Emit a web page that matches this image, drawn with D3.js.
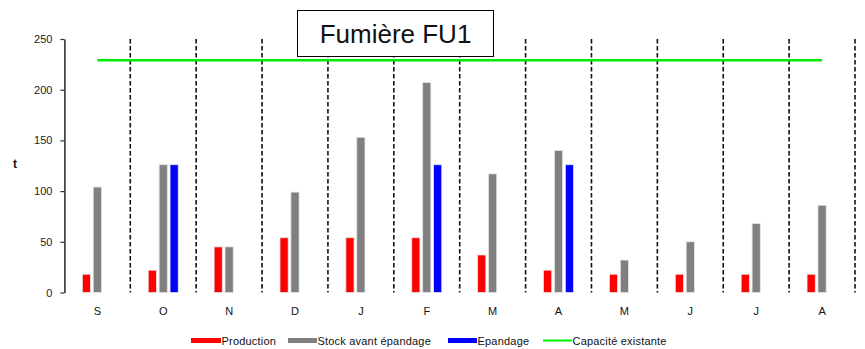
<!DOCTYPE html>
<html>
<head>
<meta charset="utf-8">
<script src="https://cdn.jsdelivr.net/npm/d3@7"></script>
<style>
  html, body { margin: 0; padding: 0; background: #fff; }
  svg { display: block; font-family: "Liberation Sans", Arial, sans-serif; }
</style>
</head>
<body>
<svg id="chart" width="865" height="349"></svg>
<script>
// Monthly manure balance for storage FU1 (tonnes)
const months = ["S", "O", "N", "D", "J", "F", "M", "A", "M", "J", "J", "A"];
const production = [18, 22, 45, 54, 54, 54, 37, 22, 18, 18, 18, 18];
const stock = [104, 126, 45, 99, 153, 207, 117, 140, 32, 50, 68, 86];
const epandage = [0, 126, 0, 0, 0, 126, 0, 126, 0, 0, 0, 0];
const capacite = [229, 229, 229, 229, 229, 229, 229, 229, 229, 229, 229, 229];
const yTicks = [0, 50, 100, 150, 200, 250];

const seriesNames = ["Production", "Stock avant épandage", "Epandage"];
const seriesColors = ["#ff0000", "#808080", "#0000ff"];
const seriesData = [production, stock, epandage];

const svg = d3.select("#chart");

const x = d3.scaleBand()
  .domain(d3.range(months.length))
  .range([64.4, 855])
  .padding(0);

const y = d3.scaleLinear().domain([0, 250]).range([292.5, 39]);

const groupW = 30;
const xs = d3.scaleBand()
  .domain(d3.range(seriesNames.length))
  .range([0, groupW])
  .paddingInner(0.25)
  .paddingOuter(0);

// dashed month separators
svg.append("g")
  .selectAll("line")
  .data(d3.range(months.length))
  .join("line")
  .attr("x1", i => x(i) + x.bandwidth())
  .attr("x2", i => x(i) + x.bandwidth())
  .attr("y1", y(250))
  .attr("y2", y(0))
  .attr("stroke", "#111")
  .attr("stroke-width", 1.6)
  .attr("stroke-dasharray", "4.5,2.5");

// bars
seriesData.forEach((vals, s) => {
  svg.append("g")
    .selectAll("rect")
    .data(vals.map((v, i) => ({ v, i })).filter(d => d.v > 0))
    .join("rect")
    .attr("x", d => x(d.i) + (x.bandwidth() - groupW) / 2 + xs(s))
    .attr("width", xs.bandwidth())
    .attr("y", d => y(d.v))
    .attr("height", d => y(0) - y(d.v))
    .attr("fill", seriesColors[s])
    .attr("stroke", "#e4e4e4")
    .attr("stroke-width", 0.8);
});

// storage capacity line
const line = d3.line()
  .x((d, i) => x(i) + x.bandwidth() / 2)
  .y(d => y(d));
svg.append("path")
  .datum(capacite)
  .attr("d", line)
  .attr("fill", "none")
  .attr("stroke", "#00ee00")
  .attr("stroke-width", 2.5);

// y axis
const yAxis = d3.axisLeft(y).tickValues(yTicks).tickSize(4).tickSizeOuter(0).tickPadding(8);
const gy = svg.append("g")
  .attr("transform", `translate(${x.range()[0]},0)`)
  .call(yAxis);
gy.select(".domain").attr("stroke", "#333").attr("stroke-width", 1.6);
gy.selectAll(".tick line").attr("stroke", "#333").attr("stroke-width", 1.2);
gy.selectAll(".tick text")
  .attr("font-size", 11)
  .attr("fill", "#222")
  .attr("font-family", "Liberation Sans, Arial, sans-serif");

svg.append("text")
  .attr("x", 15)
  .attr("y", 168)
  .attr("text-anchor", "middle")
  .attr("font-size", 12)
  .attr("font-weight", "bold")
  .attr("fill", "#111")
  .text("t");

// month labels
svg.append("g")
  .selectAll("text")
  .data(months)
  .join("text")
  .attr("x", (d, i) => x(i) + x.bandwidth() / 2)
  .attr("y", 315)
  .attr("text-anchor", "middle")
  .attr("font-size", 11)
  .attr("fill", "#111")
  .text(d => d);

// title box
const title = svg.append("g");
title.append("rect")
  .attr("x", 297.5)
  .attr("y", 10.5)
  .attr("width", 196)
  .attr("height", 46)
  .attr("fill", "#fff")
  .attr("stroke", "#000")
  .attr("stroke-width", 1);
title.append("text")
  .attr("x", 395.5)
  .attr("y", 43)
  .attr("text-anchor", "middle")
  .attr("font-size", 26)
  .attr("fill", "#111")
  .text("Fumière FU1");

// legend
const legendItems = [
  { name: "Production", color: "#ff0000", x: 191, w: 30, h: 5 },
  { name: "Stock avant épandage", color: "#808080", x: 288, w: 29, h: 5 },
  { name: "Epandage", color: "#0000ff", x: 448, w: 29, h: 5 },
  { name: "Capacité existante", color: "#00ee00", x: 543, w: 29, h: 2 }
];
const lg = svg.append("g");
legendItems.forEach(it => {
  lg.append("rect")
    .attr("x", it.x)
    .attr("y", 340.5 - it.h / 2)
    .attr("width", it.w)
    .attr("height", it.h)
    .attr("fill", it.color);
  lg.append("text")
    .attr("x", it.x + it.w + 0.5)
    .attr("y", 344.5)
    .attr("font-size", 11)
    .attr("letter-spacing", 0.2)
    .attr("fill", "#111")
    .text(it.name);
});
</script>
</body>
</html>
